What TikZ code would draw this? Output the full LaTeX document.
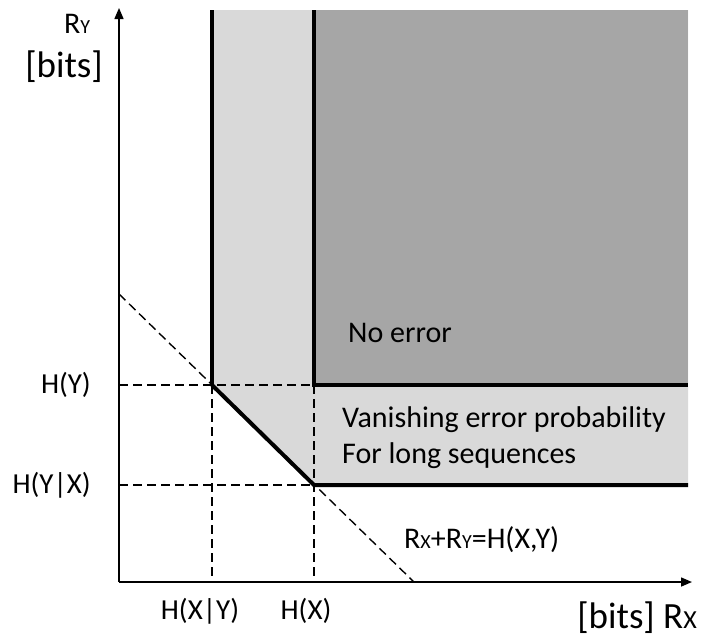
\documentclass[tikz,border=0pt]{standalone}
\usepackage{fontspec}
\setmainfont{Carlito}
\usetikzlibrary{arrows.meta}
\begin{document}
\begin{tikzpicture}[x=1pt,y=-1pt,
  axis/.style={line width=1.5pt,-{Triangle[length=11pt,width=9pt]}},
  boundary/.style={line width=4pt},
  guide/.style={line width=1.4pt,dash pattern=on 9pt off 5pt},
  lbl/.style={inner sep=0pt,font=\fontsize{29}{33}\selectfont},
  sumlbl/.style={inner sep=0pt,font=\fontsize{30}{34}\selectfont},
  regionlbl/.style={inner sep=0pt,font=\fontsize{30}{34}\selectfont},
  biglbl/.style={inner sep=0pt,font=\fontsize{37}{42}\selectfont}]
\useasboundingbox (0,0) rectangle (703,641);
\definecolor{lightregion}{HTML}{D9D9D9}
\definecolor{darkregion}{HTML}{A6A6A6}
\newcommand{\subsm}[1]{{\fontsize{20}{24}\selectfont #1}}

% corner points of the rate region
\coordinate (O) at (119,582);
\coordinate (A) at (212,385);   % (H(X|Y), H(Y))
\coordinate (B) at (314,485);   % (H(X), H(Y|X))
\coordinate (C) at (314,385);   % (H(X), H(Y))
\coordinate (Atop) at (212,10);
\coordinate (Ctop) at (314,10);
\coordinate (Bend) at (688,485);
\coordinate (Cend) at (688,385);
\coordinate (Rtop) at (688,10);
\coordinate (Ay) at (119,385);
\coordinate (By) at (119,485);
\coordinate (Ax) at (212,582);
\coordinate (Bx) at (314,582);
\coordinate (Ltop) at (119,294);
\coordinate (Lbot) at (414,582);
\coordinate (Xend) at (692,582);
\coordinate (Yend) at (119,8);

% achievable region and zero-error region
\fill[lightregion] (Atop) -- (A) -- (B) -- (Bend) -- (Rtop) -- cycle;
\fill[darkregion] (Ctop) -- (C) -- (Cend) -- (Rtop) -- cycle;

% guide lines
\draw[guide] (Ay) -- (A) -- (C);
\draw[guide] (By) -- (B);
\draw[guide] (A) -- (Ax);
\draw[guide] (C) -- (Bx);
\draw[guide] (Ltop) -- (Lbot);

% axes
\draw[axis] (O) -- (Xend);
\draw[axis] (O) -- (Yend);

% region boundaries
\draw[boundary] (Atop) -- (A);
\draw[boundary,line join=miter] (A) -- (B) -- (Bend);
\draw[boundary,line join=miter] (Ctop) -- (C) -- (Cend);

% labels
\node[sumlbl,anchor=base west] (ry) at (64,33) {\fontsize{30}{34}\selectfont R\subsm{Y}};
\node[biglbl,anchor=base east] (ybits) at (103,77) {[bits]};
\node[lbl,anchor=east] (hy) at (91,385) {H(Y)};
\node[lbl,anchor=east] (hyx) at (91,485) {H(Y|X)};
\node[lbl,anchor=center] (hxy) at (200,611) {H(X|Y)};
\node[lbl,anchor=center] (hx) at (306,611) {H(X)};
\node[sumlbl,anchor=base west] (sum) at (404,548) {R\subsm{X}+R\subsm{Y}=H(X,Y)};
\node[biglbl,anchor=base east] (xbits) at (697,628) {[bits] R{\fontsize{26}{30}\selectfont X}};
\node[regionlbl,anchor=base west] (noerr) at (348,342) {No error};
\node[regionlbl,anchor=base west] (van) at (342,427) {Vanishing error probability};
\node[regionlbl,anchor=base west] (long) at (342,463) {For long sequences};
\end{tikzpicture}
\end{document}
